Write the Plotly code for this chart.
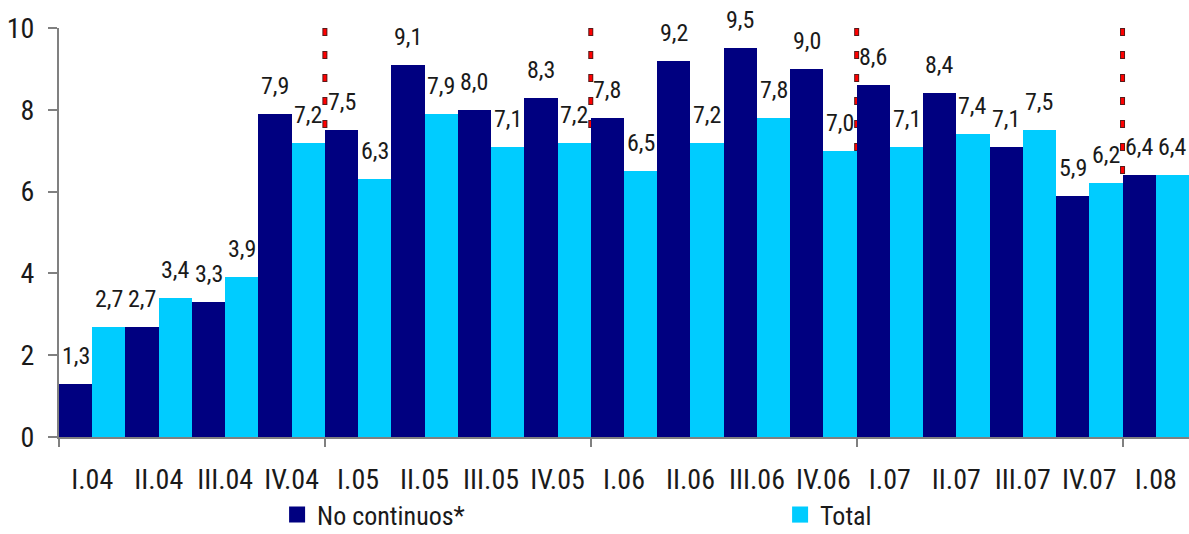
import plotly.graph_objects as go

# Quarterly data
quarters = ["I.04", "II.04", "III.04", "IV.04", "I.05", "II.05", "III.05", "IV.05",
            "I.06", "II.06", "III.06", "IV.06", "I.07", "II.07", "III.07", "IV.07", "I.08"]
no_continuos = [1.3, 2.7, 3.3, 7.9, 7.5, 9.1, 8.0, 8.3, 7.8, 9.2, 9.5, 9.0, 8.6, 8.4, 7.1, 5.9, 6.4]
total = [2.7, 3.4, 3.9, 7.2, 6.3, 7.9, 7.1, 7.2, 6.5, 7.2, 7.8, 7.0, 7.1, 7.4, 7.5, 6.2, 6.4]
year_breaks = [3.5, 7.5, 11.5, 15.5]
year_ticks = [-0.5, 3.5, 7.5, 11.5, 15.5]

NAVY = "#000080"
CYAN = "#00CCFF"
FONT = "Liberation Sans Narrow, Arial Narrow, Roboto Condensed, sans-serif"

x = list(range(len(quarters)))

fig = go.Figure()
fig.add_trace(go.Bar(x=x, y=no_continuos, name="No continuos*", marker_color=NAVY,
                     marker_line_width=0, showlegend=False))
fig.add_trace(go.Bar(x=x, y=total, name="Total", marker_color=CYAN,
                     marker_line_width=0, showlegend=False))

# legend entries with larger square swatches
fig.add_trace(go.Scatter(x=[None], y=[None], mode="markers", name="No continuos*",
                         marker=dict(symbol="square", size=16, color=NAVY)))
fig.add_trace(go.Scatter(x=[None], y=[None], mode="markers", name="Total",
                         marker=dict(symbol="square", size=16, color=CYAN)))

def fmt(v):
    return f"{v:.1f}".replace(".", ",")

annotations = []
for i in x:
    for off, vals in ((-0.25, no_continuos), (0.25, total)):
        annotations.append(dict(x=i + off, y=vals[i], text=fmt(vals[i]), showarrow=False,
                                xanchor="center", yanchor="bottom", yshift=12,
                                font=dict(family=FONT, size=24, color="#1a1a1a")))

shapes = []
for b in year_breaks:
    shapes.append(dict(type="line", x0=b, x1=b, y0=10, y1=0, xref="x", yref="y",
                       layer="below", line=dict(color="#5a1a1a", width=5, dash="8px,15px")))
    shapes.append(dict(type="line", x0=b, x1=b, y0=9.975, y1=0, xref="x", yref="y",
                       layer="below", line=dict(color="#ff0000", width=3, dash="6px,17px")))

fig.update_layout(
    width=1189, height=534, autosize=False,
    margin=dict(l=59, r=0, t=28, b=97, autoexpand=False),
    paper_bgcolor="white", plot_bgcolor="white",
    barmode="group", bargap=0, bargroupgap=0,
    font=dict(family=FONT, size=28, color="#1a1a1a"),
    annotations=annotations, shapes=shapes,
    legend=dict(orientation="h", x=0.193, y=-0.19, xanchor="left", yanchor="middle",
                entrywidth=458, entrywidthmode="pixels", bgcolor="rgba(0,0,0,0)",
                borderwidth=0, font=dict(family=FONT, size=26, color="#1a1a1a")),
    xaxis=dict(range=[-0.5, 16.5], tickmode="array", tickvals=x, ticktext=quarters,
               ticks="", showgrid=False, zeroline=False, showline=True,
               linecolor="#808080", linewidth=1.5, ticklabelstandoff=17,
               tickfont=dict(family=FONT, size=28, color="#1a1a1a")),
    xaxis2=dict(range=[-0.5, 16.5], overlaying="x", anchor="y", side="bottom",
                tickmode="array", tickvals=year_ticks, ticks="outside", ticklen=9,
                tickcolor="#808080", tickwidth=1.5, showticklabels=False,
                showgrid=False, zeroline=False, showline=False),
    yaxis=dict(range=[0, 10], tickmode="array", tickvals=[0, 2, 4, 6, 8, 10],
               ticks="outside", ticklen=9, tickcolor="#808080", tickwidth=1.5,
               showgrid=False, zeroline=False, showline=True, linecolor="#808080",
               linewidth=2, ticklabelstandoff=8,
               tickfont=dict(family=FONT, size=28, color="#1a1a1a")),
)

# boundary ticks axis needs a (hidden) trace to render
fig.add_trace(go.Scatter(x=[None], y=[None], xaxis="x2", yaxis="y", showlegend=False,
                         hoverinfo="skip"))

fig.write_html("out.html")
